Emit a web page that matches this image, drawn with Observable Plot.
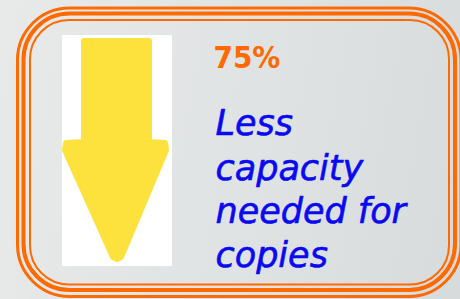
<!DOCTYPE html>
<html>
<head>
<meta charset="utf-8">
<script src="https://cdn.jsdelivr.net/npm/d3@7"></script>
<script src="https://cdn.jsdelivr.net/npm/@observablehq/plot@0.6"></script>
<style>
  html, body { margin: 0; padding: 0; overflow: hidden; }
  body { width: 460px; height: 299px; background: linear-gradient(100deg, #e8eaea 0%, #dfe2e2 60%, #d7dbdb 100%); }
</style>
</head>
<body>
<div id="chart"></div>
<script>
// Figure content
const headline = ["75%"];
const captionLines = ["Less", "capacity", "needed for", "copies"];
const captionBaselines = [134, 179, 222, 266];

// Frame: three concentric rounded borders (x1, x2, y1, y2, stroke width, corner radius)
const frameX1 = [17.5, 23.5, 30];
const frameX2 = [461, 455, 449];
const frameY1 = [8, 13.5, 20];
const frameY2 = [296.5, 290, 284.5];
const frameWidth = [3, 4, 2];
const frameRadius = [52, 46, 39];

// Arrow outline (vertical profile: y, left x, right x)
const arrowY     = [41, 142, 143, 150, 257, 259];
const arrowLeft  = [84, 84, 66, 65, 113, 117];
const arrowRight = [149, 149, 165, 166, 121, 117];

// Photo card behind the arrow
const cardX = [62, 172];
const cardY = [35, 266];

const frame = frameX1.map((x1, i) => ({x1, x2: frameX2[i], y1: frameY1[i], y2: frameY2[i], w: frameWidth[i], r: frameRadius[i]}));
const arrow = arrowY.map((y, i) => ({y, x1: arrowLeft[i], x2: arrowRight[i]}));
const captions = captionLines.map((t, i) => ({t, y: captionBaselines[i]}));

const plot = Plot.plot({
  width: 460,
  height: 299,
  margin: 0,
  x: {domain: [0, 460], axis: null},
  y: {domain: [0, 299], axis: null, range: [0, 299]},
  style: {background: "transparent", overflow: "visible"},
  marks: [
    Plot.rect([{x1: cardX[0], x2: cardX[1], y1: cardY[0], y2: cardY[1]}], {x1: "x1", x2: "x2", y1: "y1", y2: "y2", fill: "#ffffff"}),
    Plot.areaX(arrow, {y: "y", x1: "x1", x2: "x2", fill: "#fde23e", stroke: "#fde23e", strokeWidth: 6, strokeLinejoin: "round", curve: "linear"}),
    ...frame.map(f => Plot.rect([f], {x1: "x1", x2: "x2", y1: "y1", y2: "y2", fill: "none", stroke: "#ff6a00", strokeWidth: f.w, rx: f.r, ry: f.r})),
    Plot.text(headline, {x: 213, y: 67, text: d => d, fill: "#ff6a00", fontSize: 31, fontWeight: "bold", fontFamily: "DejaVu Sans Condensed", textAnchor: "start", lineAnchor: "bottom"}),
    Plot.text(captions, {x: 215, y: "y", text: "t", fill: "#0a0af0", stroke: "#0a0af0", strokeWidth: 0.6, fontSize: 35, fontStyle: "italic", fontFamily: "DejaVu Sans", textAnchor: "start", lineAnchor: "bottom"})
  ]
});
document.getElementById("chart").appendChild(plot);
</script>
</body>
</html>
